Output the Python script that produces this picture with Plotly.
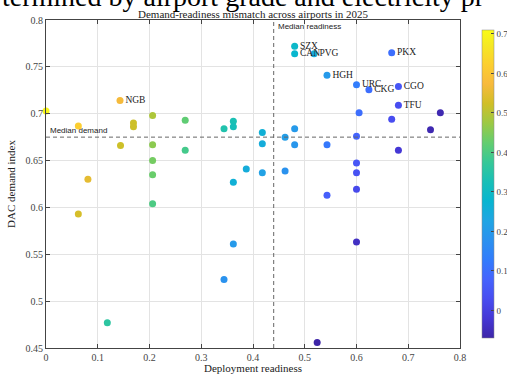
import plotly.graph_objects as go

readiness = [0.000, 0.143, 0.0625, 0.169, 0.169, 0.206, 0.269, 0.344, 0.362, 0.362,
             0.144, 0.206, 0.269, 0.206, 0.206, 0.081, 0.362, 0.387, 0.0625, 0.206,
             0.362, 0.344, 0.1185, 0.4805, 0.4805, 0.518, 0.668, 0.543, 0.600, 0.624,
             0.681, 0.681, 0.605, 0.762, 0.668, 0.743, 0.418, 0.4805, 0.462, 0.600,
             0.418, 0.4805, 0.543, 0.681, 0.600, 0.418, 0.462, 0.600, 0.600, 0.543,
             0.600, 0.524]
demand = [0.703, 0.714, 0.687, 0.690, 0.686, 0.698, 0.693, 0.684, 0.692, 0.686,
          0.666, 0.667, 0.661, 0.650, 0.635, 0.630, 0.627, 0.641, 0.593, 0.604,
          0.561, 0.523, 0.477, 0.772, 0.764, 0.764, 0.765, 0.741, 0.731, 0.7255,
          0.729, 0.709, 0.701, 0.701, 0.694, 0.683, 0.680, 0.684, 0.675, 0.676,
          0.668, 0.667, 0.667, 0.661, 0.6475, 0.637, 0.639, 0.637, 0.6195, 0.613,
          0.563, 0.456]
mismatch = [0.70, 0.57, 0.62, 0.52, 0.52, 0.49, 0.42, 0.34, 0.33, 0.32,
            0.52, 0.46, 0.39, 0.44, 0.43, 0.55, 0.26, 0.25, 0.53, 0.40,
            0.20, 0.18, 0.36, 0.29, 0.28, 0.25, 0.10, 0.20, 0.13, 0.10,
            0.05, 0.03, 0.10, -0.06, 0.03, -0.06, 0.26, 0.20, 0.21, 0.08,
            0.25, 0.19, 0.12, -0.02, 0.05, 0.22, 0.18, 0.04, 0.02, 0.07,
            -0.04, -0.07]
labels = ["", "NGB", "", "", "", "", "", "", "", "",
          "", "", "", "", "", "", "", "", "", "",
          "", "", "", "SZX", "CAN", "PVG", "PKX", "HGH", "URC", "CKG",
          "CGO", "TFU", "", "", "", "", "", "", "", "",
          "", "", "", "", "", "", "", "", "", "",
          "", ""]
median_readiness = 0.44
median_demand = 0.675
x_ticks = [0, 0.1, 0.2, 0.3, 0.4, 0.5, 0.6, 0.7, 0.8]
y_ticks = [0.45, 0.5, 0.55, 0.6, 0.65, 0.7, 0.75, 0.8]
cb_ticks = [0, 0.1, 0.2, 0.3, 0.4, 0.5, 0.6, 0.7]

parula_hex = ["#3E26A8", "#4537D5", "#484DF0", "#4563FD", "#327CFC", "#2B91EF",
              "#20A5E3", "#08B5D0", "#19BFB6", "#37C897", "#64CD6F", "#9DC943",
              "#D1BF27", "#F8BA3D", "#FCCF30", "#F5E924", "#F9FB15"]
parula_pos = [0, 4, 8, 12, 16, 20, 24, 28, 32, 36, 40, 44, 48, 52, 56, 60, 63]
parula = [[p / 63, c] for p, c in zip(parula_pos, parula_hex)]

SERIF = "Liberation Serif, Times New Roman, serif"
SANS = "Liberation Sans, Arial, sans-serif"

fig = go.Figure()
fig.add_trace(go.Scatter(
    x=readiness, y=demand, mode="markers+text",
    text=labels, textposition="middle right",
    textfont=dict(family=SERIF, size=9.5, color="#222"),
    marker=dict(size=7, color=mismatch, colorscale=parula, cmin=-0.07, cmax=0.71,
                line=dict(width=0),
                colorbar=dict(x=1.029, xanchor="left", y=0.5, yanchor="middle",
                              len=1.0, lenmode="fraction", thickness=12,
                              outlinewidth=0.5, outlinecolor="#888",
                              tickvals=cb_ticks, ticks="inside", ticklen=3,
                              tickfont=dict(family=SERIF, size=9, color="#444"),
                              title=dict(text="Mismatch index", side="right",
                                         font=dict(family=SERIF, size=9, color="#333")))),
    showlegend=False, cliponaxis=False,
))

fig.add_shape(type="line", x0=median_readiness, x1=median_readiness, y0=0.45, y1=0.8,
              xref="x", yref="y", line=dict(color="#666", width=1, dash="4px,3px"))
fig.add_shape(type="line", x0=0, x1=0.8, y0=median_demand, y1=median_demand,
              xref="x", yref="y", line=dict(color="#666", width=1, dash="4px,3px"))

fig.add_annotation(x=median_readiness + 0.005, y=0.8, xref="x", yref="y", text="Median readiness",
                   showarrow=False, xanchor="left", yanchor="top",
                   font=dict(family=SANS, size=8, color="#222"))
fig.add_annotation(x=0.004, y=median_demand, xref="x", yref="y", text="Median demand",
                   showarrow=False, xanchor="left", yanchor="bottom",
                   font=dict(family=SANS, size=8, color="#222"))
fig.add_annotation(x=0.5, y=1.0, xref="paper", yref="paper", yshift=-2,
                   text="Demand-readiness mismatch across airports in 2025",
                   showarrow=False, xanchor="center", yanchor="bottom",
                   font=dict(family=SERIF, size=11, color="#222"))
fig.add_annotation(x=-46/414, y=1.0, xref="paper", yref="paper", yshift=6,
                   text="termined by airport grade and electricity pr",
                   showarrow=False, xanchor="left", yanchor="bottom",
                   font=dict(family=SERIF, size=28, color="#000"))

axis_common = dict(showline=True, linecolor="#444", linewidth=1, mirror="ticks",
                   ticks="inside", ticklen=4, tickcolor="#444",
                   showgrid=True, gridcolor="#e3e3e3", gridwidth=1, zeroline=False,
                   automargin=False,
                   tickfont=dict(family=SERIF, size=10, color="#444"))
fig.update_xaxes(range=[0, 0.8], tickvals=x_ticks,
                 title=dict(text="Deployment readiness", standoff=2,
                            font=dict(family=SERIF, size=11, color="#222")),
                 **axis_common)
fig.update_yaxes(range=[0.45, 0.8], tickvals=y_ticks,
                 title=dict(text="DAC demand index", standoff=7,
                            font=dict(family=SERIF, size=11, color="#222")),
                 **axis_common)

fig.update_layout(width=507, height=374,
                  margin=dict(l=46, r=47, t=20, b=26, autoexpand=False),
                  plot_bgcolor="white", paper_bgcolor="white")
fig.write_html("out.html", config={"displayModeBar": False},
               post_script="document.body.style.margin='0';document.body.style.padding='0';")
